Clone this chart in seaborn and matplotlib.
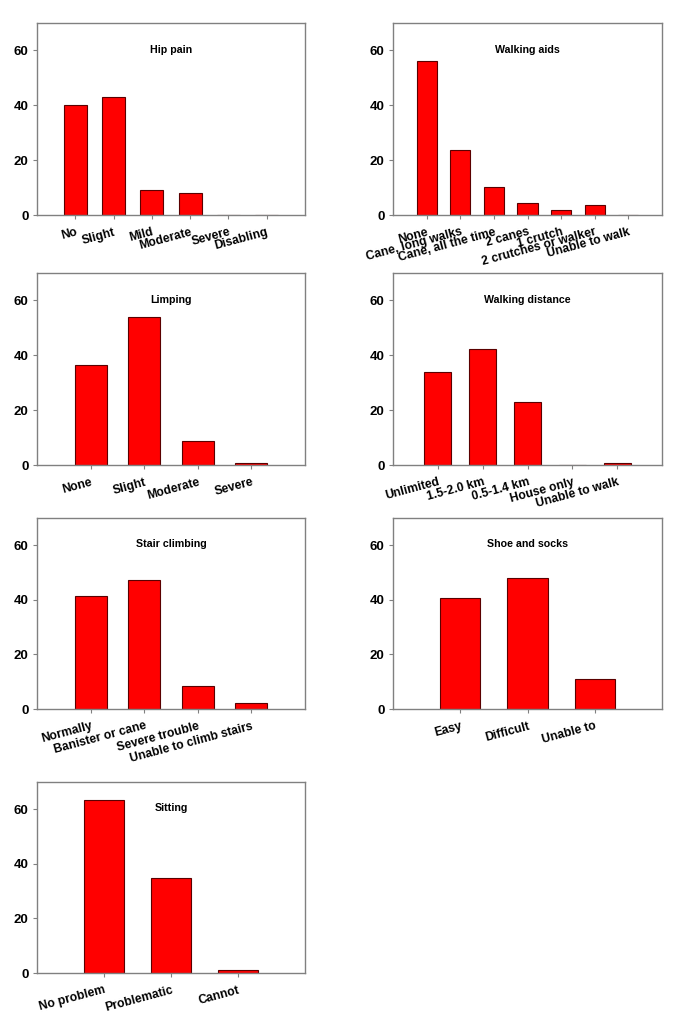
import seaborn as sns
import matplotlib.pyplot as plt

hip_cats = ["No", "Slight", "Mild", "Moderate", "Severe", "Disabling"]
hip_vals = [40, 43, 9, 8, 0, 0]

aids_cats = ["None", "Cane, long walks", "Cane, all the time", "2 canes",
             "1 crutch", "2 crutches or walker", "Unable to walk"]
aids_vals = [56.1, 23.7, 10.2, 4.3, 1.8, 3.7, 0]

limp_cats = ["None", "Slight", "Moderate", "Severe"]
limp_vals = [36.4, 53.8, 8.7, 0.7]

dist_cats = ["Unlimited", "1.5-2.0 km", "0.5-1.4 km", "House only", "Unable to walk"]
dist_vals = [33.8, 42.4, 22.8, 0, 0.6]

stair_cats = ["Normally", "Banister or cane", "Severe trouble", "Unable to climb stairs"]
stair_vals = [41.3, 47.4, 8.5, 2.3]

shoe_cats = ["Easy", "Difficult", "Unable to"]
shoe_vals = [40.8, 48.1, 10.9]

sit_cats = ["No problem", "Problematic", "Cannot"]
sit_vals = [63.5, 35.0, 1.2]

panels = [
    ("Hip pain", hip_cats, hip_vals),
    ("Walking aids", aids_cats, aids_vals),
    ("Limping", limp_cats, limp_vals),
    ("Walking distance", dist_cats, dist_vals),
    ("Stair climbing", stair_cats, stair_vals),
    ("Shoe and socks", shoe_cats, shoe_vals),
    ("Sitting", sit_cats, sit_vals),
]

sns.set_theme(style="white")
plt.rcParams['font.family'] = ['Liberation Sans', 'DejaVu Sans']
plt.rcParams['text.color'] = 'black'
plt.rcParams['xtick.color'] = 'black'
plt.rcParams['ytick.color'] = 'black'

W, H = 685, 1031
fig = plt.figure(figsize=(W / 100, H / 100), dpi=100)

# pixel boxes (left, right) per column and (top, bottom) per row
cols = [(37, 305), (393, 662)]
rows = [(23, 215), (273, 465), (518, 709), (782, 973)]

for i, (title, cats, vals) in enumerate(panels):
    l, r = cols[i % 2]
    t, b = rows[i // 2]
    ax = fig.add_axes([l / W, 1 - b / H, (r - l) / W, (b - t) / H])
    sns.barplot(x=cats, y=vals, ax=ax, color="#ff0000", saturation=1,
                width=0.6, edgecolor="#5a0000", linewidth=0.8)
    n = len(cats)
    ax.set_xlim(-1, n)
    ax.set_ylim(0, 70)
    ax.set_yticks([0, 20, 40, 60])
    ax.text((n - 1) / 2, 60.3, title, ha="center", va="center",
            fontsize=7.7, fontweight="bold", color="black")
    for s in ax.spines.values():
        s.set_color("#808080")
        s.set_linewidth(1.0)
    ax.tick_params(axis="both", which="major", direction="out", length=3,
                   width=0.8, color="#808080", labelcolor="black",
                   labelsize=9.5, pad=3, bottom=True, left=True)
    for lab in ax.get_yticklabels():
        lab.set_fontweight("bold")
    ax.set_xticks(range(n))
    ax.set_xticklabels(cats, rotation=15, ha="right", rotation_mode="anchor",
                       fontsize=8.7, fontweight="bold")
    ax.tick_params(axis="x", pad=5)

fig.savefig("out.png", dpi=100)
